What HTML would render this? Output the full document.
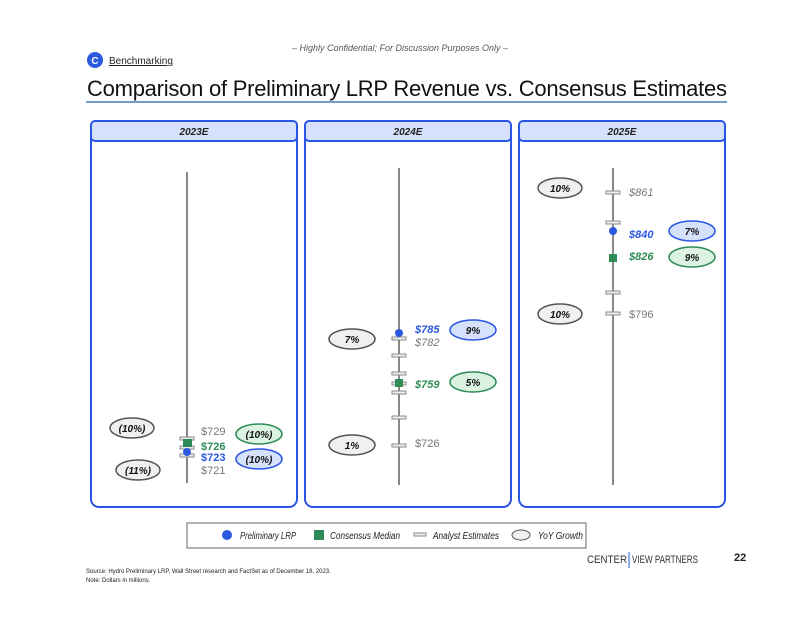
<!DOCTYPE html>
<html><head><style>
body{margin:0;background:#fff;}
svg text{font-family:"Liberation Sans",sans-serif;}
</style></head><body>
<svg width="800" height="618" xmlns="http://www.w3.org/2000/svg">
<text x="400" y="51" font-size="9" font-style="italic" fill="#555" text-anchor="middle">– Highly Confidential; For Discussion Purposes Only –</text>
<circle cx="95" cy="60" r="8" fill="#2b59e0"/>
<text x="95" y="64" font-size="10" font-weight="bold" fill="#fff" text-anchor="middle">C</text>
<text x="109" y="64" font-size="10" fill="#222" text-decoration="underline">Benchmarking</text>
<text x="87" y="96" font-size="22" fill="#111" textLength="640">Comparison of Preliminary LRP Revenue vs. Consensus Estimates</text>
<line x1="86" y1="102" x2="727" y2="102" stroke="#4a7ab5" stroke-width="1.5"/>
<g stroke="#2b55e6" stroke-width="2">
<rect x="91" y="121" width="206" height="386" rx="8" fill="#fff"/>
<rect x="91" y="121" width="206" height="20" rx="4" fill="#d6e1fb"/>
<rect x="305" y="121" width="206" height="386" rx="8" fill="#fff"/>
<rect x="305" y="121" width="206" height="20" rx="4" fill="#d6e1fb"/>
<rect x="519" y="121" width="206" height="386" rx="8" fill="#fff"/>
<rect x="519" y="121" width="206" height="20" rx="4" fill="#d6e1fb"/>
</g>
<g font-size="10" font-weight="bold" font-style="italic" text-anchor="middle" fill="#222">
<text x="194" y="135">2023E</text><text x="408" y="135">2024E</text><text x="622" y="135">2025E</text>
</g>
<g stroke="#888" stroke-width="2">
<line x1="187" y1="172" x2="187" y2="483"/>
<line x1="399" y1="168" x2="399" y2="485"/>
<line x1="613" y1="168" x2="613" y2="485"/>
</g>
<g fill="#eee" stroke="#888" stroke-width="1">
<rect x="180" y="437" width="14" height="3"/><rect x="180" y="446" width="14" height="3"/><rect x="180" y="454" width="14" height="3"/>
<rect x="392" y="337" width="14" height="3"/><rect x="392" y="354" width="14" height="3"/><rect x="392" y="372" width="14" height="3"/><rect x="392" y="382" width="14" height="3"/><rect x="392" y="391" width="14" height="3"/><rect x="392" y="416" width="14" height="3"/><rect x="392" y="444" width="14" height="3"/>
<rect x="606" y="191" width="14" height="3"/><rect x="606" y="221" width="14" height="3"/><rect x="606" y="291" width="14" height="3"/><rect x="606" y="312" width="14" height="3"/>
</g>
<rect x="183" y="439" width="9" height="8" fill="#2e8b57"/><circle cx="187" cy="452" r="4" fill="#2b59e0"/>
<rect x="395" y="379" width="8" height="8" fill="#2e8b57"/><circle cx="399" cy="333" r="4" fill="#2b59e0"/>
<rect x="609" y="254" width="8" height="8" fill="#2e8b57"/><circle cx="613" cy="231" r="4" fill="#2b59e0"/>
<g font-size="11" font-weight="bold">
<text x="201" y="435" fill="#777" font-weight="normal">$729</text>
<text x="201" y="450" fill="#2e8b57">$726</text>
<text x="201" y="461" fill="#2b59e0">$723</text>
<text x="201" y="474" fill="#777" font-weight="normal">$721</text>
<text x="415" y="333" fill="#2b59e0" font-style="italic">$785</text>
<text x="415" y="346" fill="#777" font-style="italic" font-weight="normal">$782</text>
<text x="415" y="388" fill="#2e8b57" font-style="italic">$759</text>
<text x="415" y="447" fill="#777" font-weight="normal">$726</text>
<text x="629" y="196" fill="#777" font-style="italic" font-weight="normal">$861</text>
<text x="629" y="238" fill="#2b59e0" font-style="italic">$840</text>
<text x="629" y="260" fill="#2e8b57" font-style="italic">$826</text>
<text x="629" y="318" fill="#777" font-weight="normal">$796</text>
</g>
<g stroke-width="1.5">
<ellipse cx="132" cy="428" rx="22" ry="10" fill="#f0f0f0" stroke="#555"/>
<ellipse cx="138" cy="470" rx="22" ry="10" fill="#f0f0f0" stroke="#555"/>
<ellipse cx="259" cy="434" rx="23" ry="10" fill="#dcf3e4" stroke="#2e8b57"/>
<ellipse cx="259" cy="459" rx="23" ry="10" fill="#d6e1fb" stroke="#2b55e6"/>
<ellipse cx="352" cy="339" rx="23" ry="10" fill="#f0f0f0" stroke="#555"/>
<ellipse cx="352" cy="445" rx="23" ry="10" fill="#f0f0f0" stroke="#555"/>
<ellipse cx="473" cy="330" rx="23" ry="10" fill="#d6e1fb" stroke="#2b55e6"/>
<ellipse cx="473" cy="382" rx="23" ry="10" fill="#dcf3e4" stroke="#2e8b57"/>
<ellipse cx="560" cy="188" rx="22" ry="10" fill="#f0f0f0" stroke="#555"/>
<ellipse cx="560" cy="314" rx="22" ry="10" fill="#f0f0f0" stroke="#555"/>
<ellipse cx="692" cy="231" rx="23" ry="10" fill="#d6e1fb" stroke="#2b55e6"/>
<ellipse cx="692" cy="257" rx="23" ry="10" fill="#dcf3e4" stroke="#2e8b57"/>
</g>
<g font-size="10" font-weight="bold" font-style="italic" text-anchor="middle" fill="#111">
<text x="132" y="432">(10%)</text><text x="138" y="474">(11%)</text>
<text x="259" y="438">(10%)</text><text x="259" y="463">(10%)</text>
<text x="352" y="343">7%</text><text x="352" y="449">1%</text>
<text x="473" y="334">9%</text><text x="473" y="386">5%</text>
<text x="560" y="192">10%</text><text x="560" y="318">10%</text>
<text x="692" y="235">7%</text><text x="692" y="261">9%</text>
</g>
<rect x="187" y="523" width="399" height="25" fill="#fff" stroke="#666" stroke-width="1"/>
<circle cx="227" cy="535" r="5" fill="#2b59e0"/>
<text x="240" y="539" font-size="10" font-style="italic" fill="#222" textLength="56" lengthAdjust="spacingAndGlyphs">Preliminary LRP</text>
<rect x="314" y="530" width="10" height="10" fill="#2e8b57"/>
<text x="330" y="539" font-size="10" font-style="italic" fill="#222" textLength="70" lengthAdjust="spacingAndGlyphs">Consensus Median</text>
<rect x="414" y="533" width="12" height="3" fill="#eee" stroke="#888" stroke-width="1"/>
<text x="433" y="539" font-size="10" font-style="italic" fill="#222" textLength="66" lengthAdjust="spacingAndGlyphs">Analyst Estimates</text>
<ellipse cx="521" cy="535" rx="9" ry="5" fill="#f0f0f0" stroke="#555"/>
<text x="538" y="539" font-size="10" font-style="italic" fill="#222" textLength="45" lengthAdjust="spacingAndGlyphs">YoY Growth</text>
<text x="587" y="563" font-size="11" fill="#333" textLength="40" lengthAdjust="spacingAndGlyphs">CENTER</text>
<line x1="629" y1="552" x2="629" y2="568" stroke="#2b55e6" stroke-width="1"/>
<text x="632" y="563" font-size="11" fill="#333" textLength="66" lengthAdjust="spacingAndGlyphs">VIEW PARTNERS</text>
<text x="734" y="561" font-size="11" font-weight="bold" fill="#222">22</text>
<text x="86" y="573" font-size="6" fill="#222">Source:    Hydro Preliminary LRP, Wall Street research and FactSet as of December 18, 2023.</text>
<text x="86" y="582" font-size="6" fill="#222">Note:       Dollars in millions.</text>
</svg>
</body></html>
